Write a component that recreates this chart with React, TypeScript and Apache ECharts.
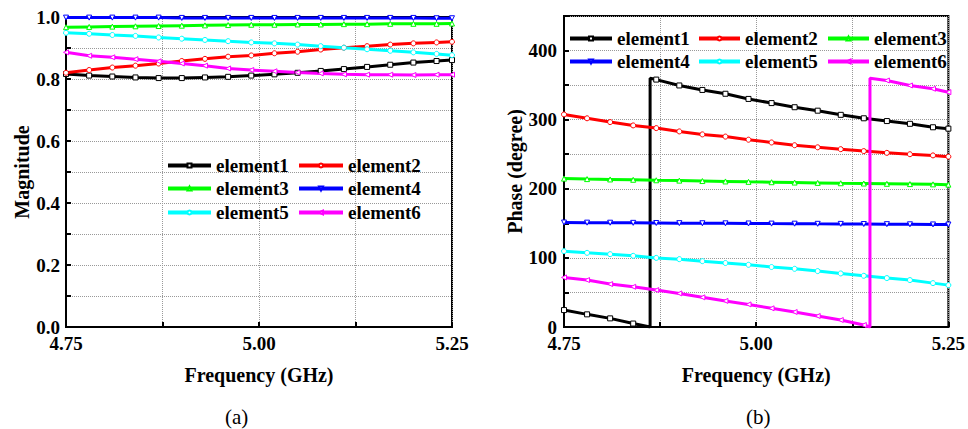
import React, { useEffect, useRef } from "react";
import * as echarts from "echarts";

// ---------- data ----------
const freq = [4.75, 4.78, 4.81, 4.84, 4.87, 4.9, 4.93, 4.96, 4.99, 5.02, 5.05, 5.08, 5.11, 5.14, 5.17, 5.2, 5.23, 5.25];

const names = ["element1", "element2", "element3", "element4", "element5", "element6"];
const colors = ["#000000", "#ff0000", "#00ff00", "#0000ff", "#00ffff", "#ff00ff"];
const symbols = ["rect", "circle", "triangle", "triangle", "circle", "triangle"];
const symbolRotations = [0, 0, 0, 180, 0, 90];

// Magnitude
const mag1 = [0.816, 0.811, 0.808, 0.805, 0.803, 0.803, 0.805, 0.807, 0.811, 0.815, 0.82, 0.826, 0.832, 0.839, 0.846, 0.853, 0.858, 0.861];
const mag2 = [0.82, 0.829, 0.837, 0.843, 0.85, 0.858, 0.865, 0.872, 0.876, 0.883, 0.888, 0.895, 0.901, 0.906, 0.911, 0.915, 0.918, 0.92];
const mag3 = [0.967, 0.968, 0.969, 0.97, 0.971, 0.972, 0.973, 0.974, 0.975, 0.975, 0.976, 0.976, 0.977, 0.977, 0.978, 0.978, 0.978, 0.979];
const mag4 = [0.998, 0.998, 0.998, 0.998, 0.998, 0.997, 0.997, 0.997, 0.997, 0.997, 0.997, 0.997, 0.997, 0.997, 0.997, 0.997, 0.996, 0.996];
const mag5 = [0.949, 0.946, 0.942, 0.939, 0.934, 0.93, 0.926, 0.922, 0.918, 0.915, 0.911, 0.906, 0.901, 0.896, 0.891, 0.886, 0.881, 0.877];
const mag6 = [0.886, 0.875, 0.87, 0.864, 0.857, 0.85, 0.843, 0.834, 0.829, 0.825, 0.821, 0.818, 0.815, 0.814, 0.814, 0.813, 0.814, 0.814];

// Phase (degree)
const phase1 = [24.5, 18.3, 12.5, 5.0, 358, 349.5, 343, 337.5, 330, 324, 318, 313, 307, 302, 298, 294, 289, 287];
const phase2 = [307.6, 302, 296.5, 291.7, 287.8, 283, 278.7, 275.5, 271, 267, 263, 260, 257.3, 254.5, 252, 250, 248.3, 246.5];
const phase3 = [214.7, 214, 213.5, 213, 212.3, 211.8, 211.2, 210.6, 210, 209.5, 209, 208.5, 208, 207.6, 207.2, 206.8, 206.4, 206];
const phase4 = [151.2, 151, 150.9, 150.7, 150.5, 150.3, 150.1, 150, 149.8, 149.6, 149.5, 149.3, 149.2, 149, 148.8, 148.6, 148.4, 148.3];
const phase5 = [109.7, 107.3, 105.4, 103, 100, 98.2, 95.3, 92.6, 90, 86.8, 84.2, 80.9, 77.5, 74.1, 70.8, 67.9, 63.5, 60.6];
const phase6 = [71.7, 67.9, 62.1, 58.2, 53.4, 48.6, 42.9, 37.7, 32.7, 27, 21.7, 15.9, 10.1, 2.9, 356.7, 349.5, 344.7, 339.8];
// frequency where the phase wraps from 0 to 360 (null: no wrap)
const phaseWraps = [4.862, null, null, null, null, 5.148];

const xTickLabels = ["4.75", "5.00", "5.25"];
const magTickLabels = ["0.0", "0.2", "0.4", "0.6", "0.8", "1.0"];
const phaseTickLabels = ["0", "100", "200", "300", "400"];

const mags = [mag1, mag2, mag3, mag4, mag5, mag6];
const phases = [phase1, phase2, phase3, phase4, phase5, phase6];

const FONT = "Times New Roman, Liberation Serif, DejaVu Serif, serif";

function buildData(values: number[], wrapAt: number | null) {
  const out: any[] = [];
  for (let i = 0; i < values.length; i++) {
    if (wrapAt !== null && i > 0 && freq[i - 1] < wrapAt && freq[i] >= wrapAt) {
      out.push({ value: [wrapAt, 0], symbol: "none", symbolSize: 0 });
      out.push({ value: [wrapAt, 360], symbol: "none", symbolSize: 0 });
    }
    out.push([freq[i], values[i]]);
  }
  return out;
}

function makeSeries(idx: number, values: number[], gridIndex: number, wrapAt: number | null) {
  return {
    type: "line",
    name: names[idx],
    xAxisIndex: gridIndex,
    yAxisIndex: gridIndex,
    data: buildData(values, wrapAt),
    symbol: symbols[idx],
    symbolRotate: symbolRotations[idx],
    symbolSize: 5,
    showAllSymbol: true,
    lineStyle: { color: colors[idx], width: 3 },
    itemStyle: { color: "#ffffff", borderColor: colors[idx], borderWidth: 1 },
    z: 3,
  };
}

const tickText = {
  color: "#000",
  fontFamily: FONT,
  fontWeight: "bold" as const,
  fontSize: 19,
};

const splitLine = { show: true, lineStyle: { type: "dotted" as const, color: "#999", width: 1 } };

function xAxis(gridIndex: number) {
  return {
    type: "value",
    gridIndex,
    min: 4.75,
    max: 5.25,
    interval: 0.125,
    name: "Frequency (GHz)",
    nameLocation: "middle",
    nameGap: 38,
    nameTextStyle: { ...tickText, fontSize: 20 },
    axisLine: { show: true, onZero: false, lineStyle: { color: "#000", width: 2 } },
    axisTick: { show: true, inside: true, length: 5, lineStyle: { color: "#000", width: 2 } },
    axisLabel: {
      ...tickText,
      margin: 7,
      formatter: (v: number) => {
        const s = v.toFixed(2);
        return xTickLabels.includes(s) ? s : "";
      },
    },
    splitLine,
  };
}

function legendItem(name: string, left: number, top: number, itemWidth: number) {
  return {
    data: [name],
    left,
    top,
    orient: "horizontal",
    itemWidth,
    itemHeight: 5,
    padding: 0,
    selectedMode: false,
    lineStyle: { width: 4 },
    textStyle: { ...tickText, fontSize: 19 },
  };
}

export default function App() {
  const ref = useRef<HTMLDivElement>(null);

  useEffect(() => {
    if (!ref.current) return;
    const chart = echarts.init(ref.current, undefined, { renderer: "svg" });

    const series: any[] = [];
    for (let i = 0; i < 6; i++) series.push(makeSeries(i, mags[i], 0, null));
    for (let i = 0; i < 6; i++) series.push(makeSeries(i, phases[i], 1, phaseWraps[i]));

    const legends = [
      // left chart: 2 columns x 3 rows
      legendItem(names[0], 166, 156, 43),
      legendItem(names[1], 297, 156, 44),
      legendItem(names[2], 166, 179, 43),
      legendItem(names[3], 297, 179, 44),
      legendItem(names[4], 166, 203, 43),
      legendItem(names[5], 297, 203, 44),
      // right chart: 3 columns x 2 rows
      legendItem(names[0], 568, 29, 42),
      legendItem(names[1], 697, 29, 41),
      legendItem(names[2], 826, 29, 41),
      legendItem(names[3], 568, 52, 42),
      legendItem(names[4], 697, 52, 41),
      legendItem(names[5], 826, 52, 41),
    ];

    chart.setOption({
      animation: false,
      backgroundColor: "#fff",
      textStyle: { fontFamily: FONT },
      grid: [
        { left: 66, top: 17, width: 386, height: 310, show: true, borderColor: "#000", borderWidth: 2, backgroundColor: "transparent" },
        { left: 564, top: 16, width: 385, height: 311, show: true, borderColor: "#000", borderWidth: 2, backgroundColor: "transparent" },
      ],
      legend: legends,
      xAxis: [xAxis(0), xAxis(1)],
      yAxis: [
        {
          type: "value",
          gridIndex: 0,
          min: 0,
          max: 1,
          interval: 0.1,
          name: "Magnitude",
          nameLocation: "middle",
          nameGap: 32,
          nameTextStyle: { ...tickText, fontSize: 20 },
          axisLine: { show: true, onZero: false, lineStyle: { color: "#000", width: 2 } },
          axisTick: { show: true, inside: true, length: 5, lineStyle: { color: "#000", width: 2 } },
          axisLabel: {
            ...tickText,
            margin: 6,
            formatter: (v: number) => {
              const s = v.toFixed(1);
              return magTickLabels.includes(s) ? s : "";
            },
          },
          splitLine,
        },
        {
          type: "value",
          gridIndex: 1,
          min: 0,
          max: 450,
          interval: 50,
          name: "Phase (degree)",
          nameLocation: "middle",
          nameGap: 38,
          nameTextStyle: { ...tickText, fontSize: 20 },
          axisLine: { show: true, onZero: false, lineStyle: { color: "#000", width: 2 } },
          axisTick: { show: true, inside: true, length: 5, lineStyle: { color: "#000", width: 2 } },
          axisLabel: {
            ...tickText,
            margin: 7,
            formatter: (v: number) => {
              const s = String(Math.round(v));
              return phaseTickLabels.includes(s) ? s : "";
            },
          },
          splitLine,
        },
      ],
      graphic: [
        {
          type: "text",
          left: 225,
          top: 406,
          style: { text: "(a)", fontFamily: FONT, fontSize: 21, fill: "#000" },
        },
        {
          type: "text",
          left: 746,
          top: 406,
          style: { text: "(b)", fontFamily: FONT, fontSize: 21, fill: "#000" },
        },
      ],
      series,
    });

    return () => chart.dispose();
  }, []);

  return (
    <div
      ref={ref}
      style={{ position: "fixed", left: 0, top: 0, width: 968, height: 429, background: "#fff" }}
    />
  );
}
